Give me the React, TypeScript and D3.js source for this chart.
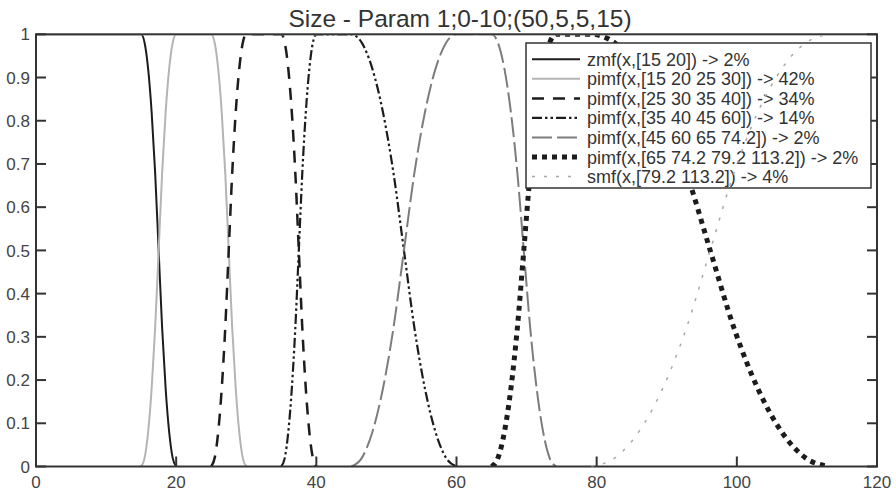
import React from 'react';
import * as d3 from 'd3';

const TITLE = 'Size - Param 1;0-10;(50,5,5,15)';
const X_TICKS = [0, 20, 40, 60, 80, 100, 120];
const Y_TICKS = [0, 0.1, 0.2, 0.3, 0.4, 0.5, 0.6, 0.7, 0.8, 0.9, 1];
const Y_TICK_LABELS = ['0', '0.1', '0.2', '0.3', '0.4', '0.5', '0.6', '0.7', '0.8', '0.9', '1'];

// points: [x, membership]
const zmf15_20: [number, number][] = [
  [0, 1], [15, 1], [15.5, 0.98], [16, 0.92], [16.5, 0.82], [17, 0.68], [17.5, 0.5],
  [18, 0.32], [18.5, 0.18], [19, 0.08], [19.5, 0.02], [20, 0],
];
const pimf15_30: [number, number][] = [
  [15, 0], [15.5, 0.02], [16, 0.08], [16.5, 0.18], [17, 0.32], [17.5, 0.5], [18, 0.68],
  [18.5, 0.82], [19, 0.92], [19.5, 0.98], [20, 1], [25, 1], [25.5, 0.98], [26, 0.92],
  [26.5, 0.82], [27, 0.68], [27.5, 0.5], [28, 0.32], [28.5, 0.18], [29, 0.08], [29.5, 0.02], [30, 0],
];
const pimf25_40: [number, number][] = [
  [25, 0], [25.5, 0.02], [26, 0.08], [26.5, 0.18], [27, 0.32], [27.5, 0.5], [28, 0.68],
  [28.5, 0.82], [29, 0.92], [29.5, 0.98], [30, 1], [35, 1], [35.5, 0.98], [36, 0.92],
  [36.5, 0.82], [37, 0.68], [37.5, 0.5], [38, 0.32], [38.5, 0.18], [39, 0.08], [39.5, 0.02], [40, 0],
];
const pimf35_60: [number, number][] = [
  [35, 0], [35.5, 0.02], [36, 0.08], [36.5, 0.18], [37, 0.32], [37.5, 0.5], [38, 0.68],
  [38.5, 0.82], [39, 0.92], [39.5, 0.98], [40, 1], [45, 1], [46.5, 0.98], [48, 0.92],
  [49.5, 0.82], [51, 0.68], [52.5, 0.5], [54, 0.32], [55.5, 0.18], [57, 0.08], [58.5, 0.02], [60, 0],
];
const pimf45_74: [number, number][] = [
  [45, 0], [46.5, 0.02], [48, 0.08], [49.5, 0.18], [51, 0.32], [52.5, 0.5], [54, 0.68],
  [55.5, 0.82], [57, 0.92], [58.5, 0.98], [60, 1], [65, 1], [65.92, 0.98], [66.84, 0.92],
  [67.76, 0.82], [68.68, 0.68], [69.6, 0.5], [70.52, 0.32], [71.44, 0.18], [72.36, 0.08],
  [73.28, 0.02], [74.2, 0],
];
const pimf65_113: [number, number][] = [
  [65, 0], [65.92, 0.02], [66.84, 0.08], [67.76, 0.18], [68.68, 0.32], [69.6, 0.5],
  [70.52, 0.68], [71.44, 0.82], [72.36, 0.92], [73.28, 0.98], [74.2, 1], [79.2, 1],
  [82.6, 0.98], [86, 0.92], [89.4, 0.82], [92.8, 0.68], [96.2, 0.5], [99.6, 0.32],
  [103, 0.18], [106.4, 0.08], [109.8, 0.02], [113.2, 0],
];
const smf79_113: [number, number][] = [
  [79.2, 0], [82.6, 0.02], [86, 0.08], [89.4, 0.18], [92.8, 0.32], [96.2, 0.5],
  [99.6, 0.68], [103, 0.82], [106.4, 0.92], [109.8, 0.98], [113.2, 1],
];

const SERIES_LABELS = [
  'zmf(x,[15 20]) -> 2%',
  'pimf(x,[15 20 25 30]) -> 42%',
  'pimf(x,[25 30 35 40]) -> 34%',
  'pimf(x,[35 40 45 60]) -> 14%',
  'pimf(x,[45 60 65 74.2]) -> 2%',
  'pimf(x,[65 74.2 79.2 113.2]) -> 2%',
  'smf(x,[79.2 113.2]) -> 4%',
];
const SERIES_DATA = [zmf15_20, pimf15_30, pimf25_40, pimf35_60, pimf45_74, pimf65_113, smf79_113];

const STYLES = [
  { stroke: '#1c1c1c', width: 2, dash: undefined as string | undefined },
  { stroke: '#b4b4b4', width: 2, dash: undefined },
  { stroke: '#1c1c1c', width: 2.5, dash: '12,9' },
  { stroke: '#1c1c1c', width: 2.2, dash: '10,3,2.5,3,2.5,3' },
  { stroke: '#7c7c7c', width: 2, dash: '20,5' },
  { stroke: '#1c1c1c', width: 5, dash: '5,5' },
  { stroke: '#a8a8a8', width: 1.5, dash: '3,9' },
];

const W = 896;
const H = 491;
const L = 36, R = 877, T = 34.3, B = 466.5;
const FONT = '"Liberation Sans", Arial, Helvetica, sans-serif';

export default function App() {
  const x = d3.scaleLinear().domain([0, 120]).range([L, R]);
  const y = d3.scaleLinear().domain([0, 1]).range([B, T]);
  const line = d3.line<[number, number]>()
    .x((d) => x(d[0]))
    .y((d) => y(d[1]))
    .curve(d3.curveMonotoneX);

  const frameColor = '#333';
  const tickLen = 10;

  const renderSeries = (i: number) => {
    const s = STYLES[i];
    return (
      <path
        key={'s' + i}
        d={line(SERIES_DATA[i]) || ''}
        fill="none"
        stroke={s.stroke}
        strokeWidth={s.width}
        strokeDasharray={s.dash}
        clipPath="url(#plotClip)"
      />
    );
  };

  const legX0 = 526, legY0 = 43, legX1 = 871, legY1 = 188;
  const rowY = (i: number) => 59.3 + 19.55 * i;

  return (
    <svg
      width={W}
      height={H}
      style={{ position: 'absolute', left: 0, top: 0, background: '#fff' }}
      fontFamily={FONT}
    >
      <defs>
        <clipPath id="plotClip">
          <rect x={L + 1} y={T + 1} width={R - L - 2} height={B - T - 1} />
        </clipPath>
      </defs>
      <rect x={0} y={0} width={W} height={H} fill="#fff" />
      <text x={460} y={27} textAnchor="middle" fontSize={24.5} fill="#333">{TITLE}</text>

      {[0, 1, 2, 3, 4, 5].map(renderSeries)}

      {/* frame */}
      <rect x={L} y={T} width={R - L} height={B - T} fill="none" stroke={frameColor} strokeWidth={2} />
      {Y_TICKS.map((t, i) => (
        <g key={'yt' + i}>
          <line x1={L} x2={L + tickLen} y1={y(t)} y2={y(t)} stroke={frameColor} strokeWidth={2} />
          <line x1={R} x2={R - tickLen} y1={y(t)} y2={y(t)} stroke={frameColor} strokeWidth={2} />
          <text x={30} y={y(t)} dy="0.36em" textAnchor="end" fontSize={17} fill="#444">
            {Y_TICK_LABELS[i]}
          </text>
        </g>
      ))}
      {X_TICKS.map((t, i) => (
        <g key={'xt' + i}>
          <line x1={x(t)} x2={x(t)} y1={B} y2={B - tickLen} stroke={frameColor} strokeWidth={2} />
          <text x={x(t)} y={488} textAnchor="middle" fontSize={17} fill="#444">{String(t)}</text>
        </g>
      ))}

      {/* legend */}
      <rect x={legX0} y={legY0} width={legX1 - legX0} height={legY1 - legY0} fill="#fff" stroke={frameColor} strokeWidth={1.5} />
      {SERIES_LABELS.map((lab, i) => {
        const s = STYLES[i];
        return (
          <g key={'lg' + i}>
            <line x1={532} x2={580} y1={rowY(i)} y2={rowY(i)} stroke={s.stroke} strokeWidth={s.width} strokeDasharray={s.dash} />
            <text x={587} y={rowY(i)} dy="0.36em" fontSize={18} fill="#333">{lab}</text>
          </g>
        );
      })}

      {renderSeries(6)}
    </svg>
  );
}
